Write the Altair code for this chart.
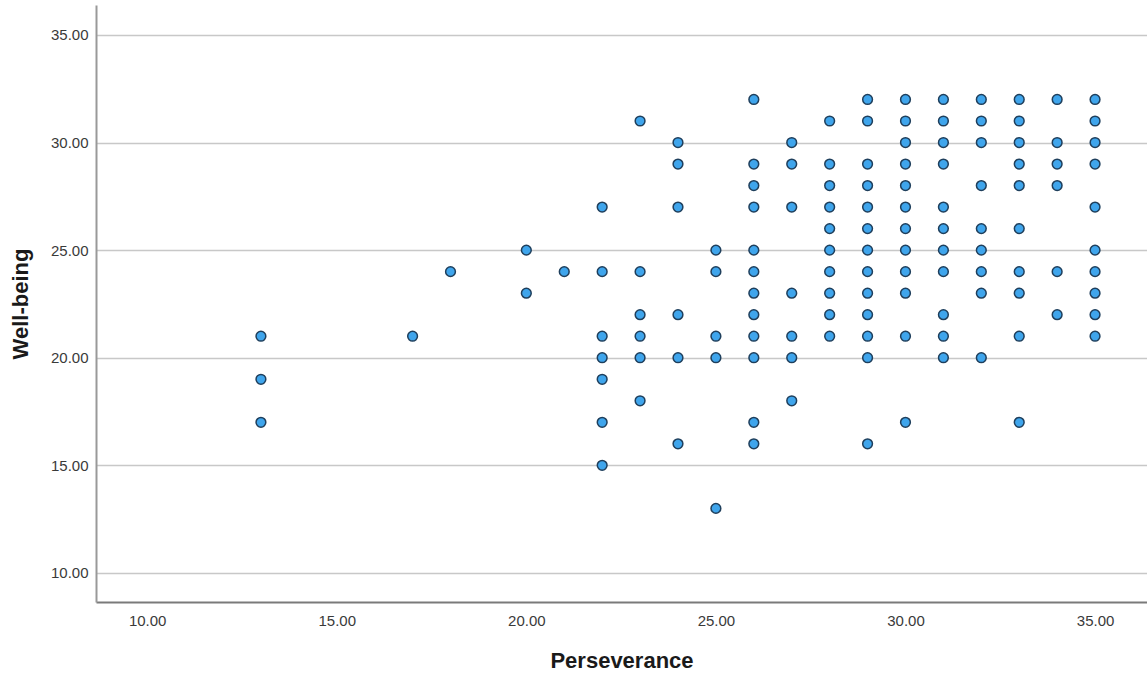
import altair as alt
import pandas as pd

# Perseverance score -> list of Well-being scores observed at that score
perseverance_levels = [13, 17, 18, 20, 21, 22, 23, 24, 25, 26, 27, 28, 29, 30, 31, 32, 33, 34, 35]
wellbeing_by_level = [
    [21, 19, 17],
    [21],
    [24],
    [25, 23],
    [24],
    [27, 24, 21, 20, 19, 17, 15],
    [31, 24, 22, 21, 20, 18],
    [30, 29, 27, 22, 20, 16],
    [25, 24, 21, 20, 13],
    [32, 29, 28, 27, 25, 24, 23, 22, 21, 20, 17, 16],
    [30, 29, 27, 23, 21, 20, 18],
    [31, 29, 28, 27, 26, 25, 24, 23, 22, 21],
    [32, 31, 29, 28, 27, 26, 25, 24, 23, 22, 21, 20, 16],
    [32, 31, 30, 29, 28, 27, 26, 25, 24, 23, 21, 17],
    [32, 31, 30, 29, 27, 26, 25, 24, 22, 21, 20],
    [32, 31, 30, 28, 26, 25, 24, 23, 20],
    [32, 31, 30, 29, 28, 26, 24, 23, 21, 17],
    [32, 30, 29, 28, 24, 22],
    [32, 31, 30, 29, 27, 25, 24, 23, 22, 21],
]
tick_values = [10, 15, 20, 25, 30, 35]

rows = [
    {"Perseverance": p, "Well-being": w}
    for p, ws in zip(perseverance_levels, wellbeing_by_level)
    for w in ws
]
df = pd.DataFrame(rows)

label_font = "Liberation Sans"

chart = (
    alt.Chart(df)
    .mark_point(
        shape="circle",
        filled=True,
        size=95,
        fill="#3fa5ec",
        stroke="#1f3f5c",
        strokeWidth=1.5,
        opacity=1,
    )
    .encode(
        x=alt.X(
            "Perseverance:Q",
            scale=alt.Scale(domain=[8.65, 36.37], nice=False, zero=False),
            axis=alt.Axis(
                values=tick_values,
                format=".2f",
                grid=False,
                ticks=False,
                labelPadding=11,
                titlePadding=22,
                domainColor="#7a7a7a",
                domainWidth=2,
            ),
        ),
        y=alt.Y(
            "Well-being:Q",
            scale=alt.Scale(domain=[8.65, 36.39], nice=False, zero=False),
            axis=alt.Axis(
                values=tick_values,
                format=".2f",
                grid=True,
                gridColor="#c8c8c8",
                gridWidth=1.5,
                ticks=False,
                labelPadding=8,
                titlePadding=18,
                domainColor="#999999",
                domainWidth=2,
            ),
        ),
    )
    .properties(
        width=1051,
        height=597,
        autosize=alt.AutoSizeParams(type="none"),
        padding={"left": 96, "top": 5, "right": 0, "bottom": 74},
        background="white",
    )
    .configure_view(stroke=None)
    .configure_axis(
        labelFont=label_font,
        labelFontSize=15,
        labelColor="#3a3a3a",
        titleFont=label_font,
        titleFontSize=22,
        titleFontWeight="bold",
        titleColor="#1a1a1a",
    )
)

chart.save("out.html", embed_options={"renderer": "svg", "actions": False})
